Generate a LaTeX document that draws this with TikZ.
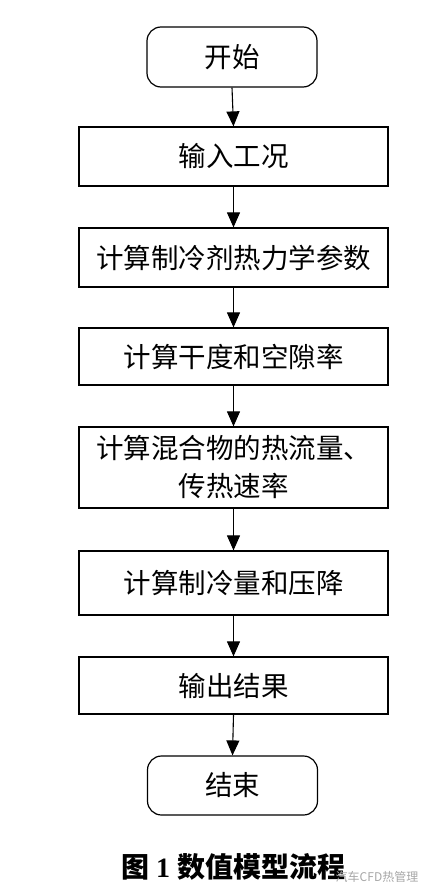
\documentclass[tikz,border=0pt]{standalone}
\usepackage{fontspec}
\setmainfont{Liberation Serif}
\newfontfamily\cjk{Noto Sans CJK SC}
\usetikzlibrary{arrows.meta}
\begin{document}
\begin{tikzpicture}[x=1pt,y=1pt,
  box/.style={draw, line width=1.2pt, minimum width=309pt, inner sep=0pt, align=center,
    font=\cjk\fontsize{27.5}{38}\selectfont},
  term/.style={box, rounded corners=14pt, minimum width=170pt},
  flow/.style={line width=1.1pt, -{Triangle[length=15pt,width=13pt]}}]
\useasboundingbox (0,0) rectangle (433,-894);
\node[term, minimum height=60pt] (s) at (232,-57) {开始};
\node[box, minimum height=59pt] (b1) at (233.5,-156.5) {输入工况};
\node[box, minimum height=59pt] (b2) at (233.5,-257.5) {计算制冷剂热力学参数};
\node[box, minimum height=57pt] (b3) at (233.5,-356.5) {计算干度和空隙率};
\node[box, minimum height=81pt] (b4) at (233.5,-467.5) {计算混合物的热流量、\\传热速率};
\node[box, minimum height=64pt] (b5) at (233.5,-583) {计算制冷量和压降};
\node[box, minimum height=57pt] (b6) at (233.5,-685.5) {输出结果};
\node[term, minimum height=59pt] (e) at (232.5,-785.5) {结束};
\foreach \a/\b in {s/b1,b1/b2,b2/b3,b3/b4,b4/b5,b5/b6,b6/e}
  \draw[flow] (\a.south) -- (\b.north);
\node[font=\bfseries\fontsize{28}{32}\selectfont] (cap) at (233,-867) {{\cjk 图} 1 {\cjk 数值模型流程}};
\node[font=\cjk\fontsize{12}{14}\selectfont, text=black!35] (wm) at (377,-877) {汽车CFD热管理};
\end{tikzpicture}
\end{document}
